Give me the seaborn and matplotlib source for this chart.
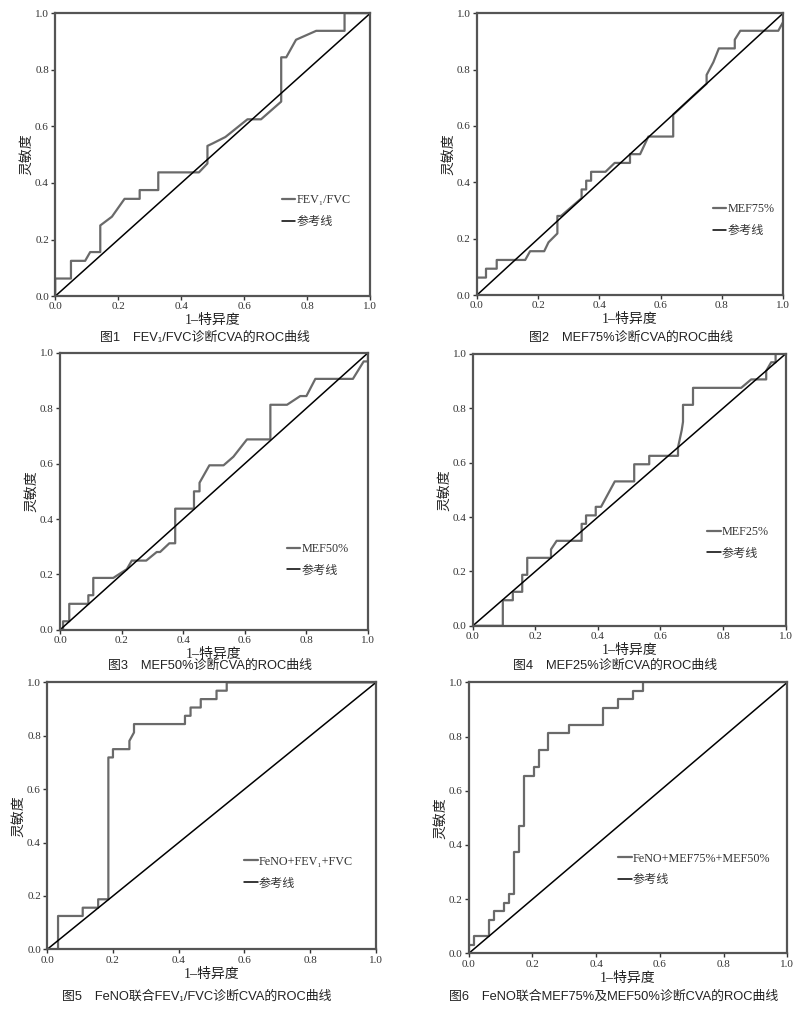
import matplotlib
matplotlib.use('Agg')
import pandas as pd
import seaborn as sns
import matplotlib.pyplot as plt

# ROC curves (1-specificity, sensitivity)
fpr1 = [0, 0, 0.05, 0.05, 0.095, 0.111, 0.143, 0.143, 0.18, 0.22, 0.268, 0.268, 0.327, 0.327, 0.456, 0.483,
        0.483, 0.5, 0.54, 0.61, 0.653, 0.717, 0.717, 0.733, 0.764, 0.828, 0.918, 0.918, 1.0]
tpr1 = [0, 0.0625, 0.0625, 0.125, 0.125, 0.156, 0.156, 0.25, 0.281, 0.344, 0.344, 0.375, 0.375, 0.4375, 0.4375,
        0.469, 0.531, 0.54, 0.5625, 0.625, 0.625, 0.6875, 0.844, 0.844, 0.906, 0.9375, 0.9375, 1.0, 1.0]

fpr2 = [0, 0, 0.03, 0.03, 0.065, 0.065, 0.158, 0.174, 0.22, 0.234, 0.263, 0.263, 0.275, 0.342, 0.342, 0.357,
        0.357, 0.373, 0.373, 0.42, 0.45, 0.5, 0.5, 0.533, 0.56, 0.641, 0.641, 0.7, 0.75, 0.75, 0.772, 0.79,
        0.842, 0.842, 0.86, 0.984, 1.0, 1.0]
tpr2 = [0, 0.0625, 0.0625, 0.094, 0.094, 0.125, 0.125, 0.156, 0.156, 0.1875, 0.219, 0.281, 0.281, 0.344, 0.375,
        0.375, 0.406, 0.406, 0.4375, 0.4375, 0.469, 0.469, 0.5, 0.5, 0.5625, 0.5625, 0.64, 0.70, 0.75, 0.781,
        0.826, 0.875, 0.875, 0.906, 0.9375, 0.9375, 0.969, 1.0]

fpr3 = [0, 0.01, 0.01, 0.03, 0.03, 0.092, 0.092, 0.108, 0.108, 0.173, 0.217, 0.233, 0.28, 0.314, 0.325, 0.355,
        0.374, 0.374, 0.435, 0.435, 0.453, 0.453, 0.485, 0.531, 0.563, 0.607, 0.683, 0.683, 0.737, 0.78, 0.8,
        0.829, 0.951, 0.986, 1.0, 1.0]
tpr3 = [0, 0, 0.031, 0.031, 0.094, 0.094, 0.125, 0.125, 0.1875, 0.1875, 0.219, 0.25, 0.25, 0.281, 0.281, 0.3125,
        0.3125, 0.4375, 0.4375, 0.5, 0.5, 0.531, 0.594, 0.594, 0.625, 0.6875, 0.6875, 0.8125, 0.8125, 0.844,
        0.844, 0.906, 0.906, 0.969, 0.969, 1.0]

fpr4 = [0, 0.096, 0.096, 0.128, 0.128, 0.158, 0.158, 0.174, 0.174, 0.25, 0.25, 0.268, 0.348, 0.348, 0.362,
        0.362, 0.393, 0.393, 0.41, 0.454, 0.516, 0.516, 0.564, 0.564, 0.656, 0.656, 0.668, 0.672, 0.672, 0.704,
        0.704, 0.858, 0.89, 0.938, 0.938, 0.954, 0.968, 0.968, 1.0]
tpr4 = [0, 0, 0.094, 0.094, 0.125, 0.125, 0.1875, 0.1875, 0.25, 0.25, 0.281, 0.3125, 0.3125, 0.375, 0.375,
        0.406, 0.406, 0.4375, 0.4375, 0.531, 0.531, 0.594, 0.594, 0.625, 0.625, 0.656, 0.72, 0.75, 0.8125,
        0.8125, 0.875, 0.875, 0.906, 0.906, 0.9375, 0.969, 0.969, 1.0, 1.0]

fpr5 = [0, 0.033, 0.033, 0.108, 0.108, 0.155, 0.155, 0.186, 0.186, 0.2, 0.2, 0.25, 0.25, 0.264, 0.264, 0.419,
        0.419, 0.436, 0.436, 0.467, 0.467, 0.515, 0.515, 0.546, 0.546, 1.0]
tpr5 = [0, 0, 0.125, 0.125, 0.156, 0.156, 0.1875, 0.1875, 0.719, 0.719, 0.75, 0.75, 0.781, 0.8125, 0.844, 0.844,
        0.875, 0.875, 0.906, 0.906, 0.9375, 0.9375, 0.969, 0.969, 1.0, 1.0]

fpr6 = [0, 0, 0.016, 0.016, 0.063, 0.063, 0.079, 0.079, 0.11, 0.11, 0.126, 0.126, 0.142, 0.142, 0.158, 0.158,
        0.173, 0.173, 0.204, 0.204, 0.22, 0.22, 0.249, 0.249, 0.315, 0.315, 0.422, 0.422, 0.47, 0.47, 0.515,
        0.515, 0.548, 0.548, 1.0]
tpr6 = [0, 0.031, 0.031, 0.0625, 0.0625, 0.125, 0.125, 0.156, 0.156, 0.1875, 0.1875, 0.219, 0.219, 0.375, 0.375,
        0.469, 0.469, 0.656, 0.656, 0.6875, 0.6875, 0.75, 0.75, 0.8125, 0.8125, 0.844, 0.844, 0.906, 0.906,
        0.9375, 0.9375, 0.969, 0.969, 1.0, 1.0]

labels = ['FEV\u2081/FVC', 'MEF75%', 'MEF50%', 'MEF25%', 'FeNO+FEV\u2081+FVC', 'FeNO+MEF75%+MEF50%']
captions = ['图1　FEV\u2081/FVC诊断CVA的ROC曲线', '图2　MEF75%诊断CVA的ROC曲线',
            '图3　MEF50%诊断CVA的ROC曲线', '图4　MEF25%诊断CVA的ROC曲线',
            '图5　FeNO联合FEV\u2081/FVC诊断CVA的ROC曲线', '图6　FeNO联合MEF75%及MEF50%诊断CVA的ROC曲线']
ref_x = [0, 1]
ref_y = [0, 1]
ticks = [0.0, 0.2, 0.4, 0.6, 0.8, 1.0]

sns.set_style('white')
serif = ['Liberation Serif', 'Noto Sans CJK SC', 'DejaVu Serif']
sans = ['Liberation Sans', 'Noto Sans CJK SC', 'DejaVu Sans']
plt.rcParams['font.family'] = serif

fig = plt.figure(figsize=(8, 10.11), dpi=100)

# axes boxes in figure fractions, caption centres and legend anchors
boxes = [[0.069, 0.707, 0.394, 0.280], [0.596, 0.708, 0.383, 0.279],
         [0.075, 0.377, 0.385, 0.274], [0.591, 0.381, 0.391, 0.269],
         [0.059, 0.061, 0.411, 0.264], [0.586, 0.057, 0.398, 0.268]]
cap_pos = [(205, 338), (631, 338), (210, 666), (615, 666), (197, 997), (614, 997)]
leg_pos = [(0.72, 0.30), (0.77, 0.266), (0.737, 0.253), (0.75, 0.305), (0.60, 0.288), (0.47, 0.31)]
curves = [(fpr1, tpr1), (fpr2, tpr2), (fpr3, tpr3), (fpr4, tpr4), (fpr5, tpr5), (fpr6, tpr6)]

for i, (fx, ty) in enumerate(curves):
    ax = fig.add_axes(boxes[i])
    df = pd.DataFrame({'x': fx, 'y': ty})
    sns.lineplot(x='x', y='y', data=df, sort=False, estimator=None, color='#6a6a6a',
                 linewidth=1.6, label=labels[i], ax=ax)
    sns.lineplot(x=ref_x, y=ref_y, sort=False, estimator=None, color='black',
                 linewidth=1.1, label='参考线', ax=ax)
    ax.set_xlim(0, 1)
    ax.set_ylim(0, 1)
    ax.set_xticks(ticks)
    ax.set_yticks(ticks)
    ax.set_xticklabels(['%.1f' % t for t in ticks])
    ax.set_yticklabels(['%.1f' % t for t in ticks])
    ax.tick_params(axis='both', labelsize=8, length=3, width=1, direction='out',
                   colors='#333333', pad=1.5)
    ax.tick_params(bottom=True, left=True)
    for sp in ax.spines.values():
        sp.set_color('#555555')
        sp.set_linewidth(1.6)
    ax.set_xlabel('1–特异度', fontsize=10, labelpad=2, color='#222222')
    ax.set_ylabel('灵敏度', fontsize=10, labelpad=1, color='#222222')
    leg = ax.legend(loc='center left', bbox_to_anchor=leg_pos[i], frameon=False, borderpad=0,
                    borderaxespad=0, fontsize=8.7, handlelength=1.1, handletextpad=0.1,
                    labelspacing=0.8)
    for t in leg.get_texts():
        t.set_color('#333333')
    fig.text(cap_pos[i][0] / 800, 1 - cap_pos[i][1] / 1011, captions[i], ha='center', va='center',
             fontsize=9.3, family=sans, color='#222222')

plt.savefig('out.png', dpi=100)
